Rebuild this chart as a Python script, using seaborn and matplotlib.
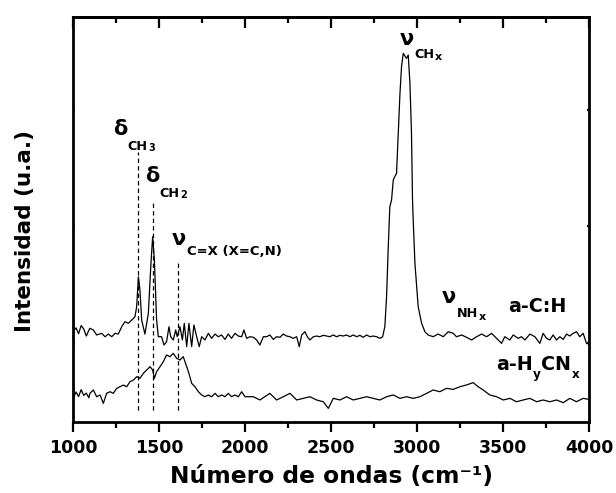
import matplotlib
matplotlib.use("Agg")
import matplotlib.pyplot as plt
import numpy as np
import pandas as pd
import seaborn as sns

# ---------------- data ----------------
# a-C:H film, IR absorbance (arbitrary units, offset for display)
wn_ach = [1000, 1015, 1030, 1045, 1060, 1075, 1090,
          1096, 1116, 1135, 1164, 1184, 1203, 1223, 1242, 1261, 1281, 1300, 1319, 1339, 1358,
          1368, 1378, 1387, 1397, 1416, 1436, 1451, 1461, 1471, 1484, 1494, 1513, 1527, 1542,
          1556, 1566, 1581, 1595, 1604, 1620, 1634, 1645, 1659, 1672, 1688, 1701, 1717, 1732,
          1746, 1765, 1785, 1804, 1824, 1843, 1862, 1882, 1901, 1920, 1940, 1959, 1979, 1992,
          2008, 2027, 2047, 2066, 2085, 2105, 2124, 2143, 2163, 2182, 2202, 2221, 2240, 2260,
          2279, 2299, 2314, 2328, 2347, 2361, 2376, 2396, 2415, 2434, 2454, 2473, 2492, 2512,
          2531, 2551, 2570, 2589, 2609, 2628, 2648, 2667, 2686, 2706, 2725, 2744, 2764, 2783,
          2799, 2812, 2822, 2832, 2841, 2851, 2861, 2870, 2880, 2890, 2900, 2909, 2919, 2929,
          2938, 2948, 2958, 2967, 2973, 2977, 2987, 3006, 3026, 3045, 3064, 3093, 3122, 3152,
          3181, 3210, 3229, 3259, 3287, 3317, 3346, 3375, 3404, 3433, 3462, 3491, 3510, 3539,
          3559, 3588, 3607, 3627, 3656, 3685, 3714, 3733, 3753, 3772, 3791, 3811, 3830, 3850,
          3869, 3888, 3908, 3927, 3946, 3966, 3985, 4000]
int_ach = [0.10, 0.13, 0.08, 0.15, 0.12, 0.06, 0.11,
           0.126, 0.112, 0.069, 0.083, 0.054, 0.077, 0.054, 0.083, 0.077, 0.140, 0.183, 0.169, 0.197, 0.226,
           0.312, 0.569, 0.455, 0.197, 0.077, 0.255, 0.684, 0.913, 0.712, 0.197, 0.054, 0.054, -0.017, 0.011,
           0.140, 0.054, 0.026, 0.112, 0.054, 0.140, 0.026, 0.169, -0.031, 0.169, -0.031, 0.155, 0.054, -0.031,
           0.054, 0.026, 0.083, 0.040, 0.077, 0.054, 0.069, 0.031, 0.077, 0.040, 0.083, 0.060, 0.054, 0.112,
           0.040, 0.054, 0.049, 0.026, -0.017, 0.054, 0.054, 0.069, 0.031, 0.054, 0.049, 0.077, 0.060, 0.054,
           0.040, 0.054, -0.031, 0.069, 0.097, 0.054, 0.026, 0.054, 0.060, 0.054, 0.066, 0.060, 0.054, 0.069,
           0.054, 0.066, 0.060, 0.069, 0.054, 0.069, 0.054, 0.066, 0.049, 0.069, 0.054, 0.060, 0.054, 0.040,
           0.054, 0.140, 0.398, 0.827, 1.170, 1.227, 1.399, 1.428, 1.456, 1.800, 2.143, 2.372, 2.486, 2.464,
           2.443, 2.472, 2.229, 1.800, 1.227, 1.056, 0.684, 0.312, 0.169, 0.097, 0.069, 0.054, 0.077, 0.054,
           0.097, 0.083, 0.054, 0.069, 0.049, 0.026, 0.054, 0.077, 0.054, 0.083, 0.040, -0.003, 0.054, 0.026,
           0.069, 0.040, 0.054, 0.026, 0.077, 0.054, -0.003, 0.083, 0.040, 0.026, 0.069, 0.026, 0.054, 0.031,
           0.077, 0.060, 0.083, 0.097, 0.054, 0.083, -0.003, -0.009]

# a-HyCNx film
wn_acn = [1000, 1015, 1030, 1045, 1060, 1075, 1090,
          1096, 1116, 1135, 1155, 1174, 1193, 1213, 1232, 1252, 1271, 1290, 1310, 1329, 1349,
          1368, 1387, 1407, 1426, 1446, 1461, 1471, 1484, 1504, 1523, 1542, 1562, 1581, 1601,
          1620, 1639, 1659, 1672, 1688, 1707, 1727, 1746, 1765, 1785, 1804, 1824, 1843, 1862,
          1882, 1901, 1920, 1940, 1959, 1979, 1998, 2047, 2085, 2143, 2182, 2221, 2260, 2299,
          2337, 2376, 2415, 2454, 2483, 2512, 2551, 2589, 2628, 2667, 2706, 2744, 2783, 2822,
          2861, 2900, 2938, 2977, 3016, 3055, 3093, 3132, 3171, 3210, 3249, 3287, 3326, 3355,
          3384, 3423, 3462, 3501, 3540, 3578, 3617, 3656, 3695, 3733, 3772, 3811, 3850, 3888,
          3927, 3966, 4000]
int_acn = [-0.47, -0.42, -0.46, -0.40, -0.45, -0.43, -0.47,
           -0.432, -0.403, -0.461, -0.446, -0.518, -0.432, -0.418, -0.432, -0.389, -0.375, -0.361, -0.375, -0.332, -0.318,
           -0.289, -0.303, -0.260, -0.232, -0.203, -0.232, -0.303, -0.246, -0.203, -0.160, -0.103, -0.117, -0.089, -0.132,
           -0.146, -0.117, -0.203, -0.260, -0.346, -0.375, -0.418, -0.446, -0.461, -0.446, -0.461, -0.432, -0.461, -0.446,
           -0.461, -0.432, -0.461, -0.446, -0.461, -0.418, -0.461, -0.461, -0.489, -0.432, -0.489, -0.461, -0.432, -0.489,
           -0.475, -0.461, -0.489, -0.504, -0.561, -0.475, -0.489, -0.461, -0.489, -0.475, -0.461, -0.475, -0.489, -0.461,
           -0.446, -0.475, -0.461, -0.475, -0.461, -0.432, -0.403, -0.418, -0.389, -0.398, -0.375, -0.360, -0.340, -0.375,
           -0.403, -0.446, -0.461, -0.489, -0.475, -0.504, -0.489, -0.475, -0.504, -0.489, -0.504, -0.489, -0.512, -0.475,
           -0.504, -0.475, -0.484]

# band assignments: position (cm-1) and top of the guide line
band_pos = [1378, 1463, 1607]
band_top = [1.64, 1.227, 0.695]
band_bottom = -0.575

x_major = [1000, 1500, 2000, 2500, 3000, 3500, 4000]
x_minor = [1250, 1750, 2250, 2750, 3250, 3750]
y_ticks = [0, 1, 2]

# ---------------- figure ----------------
sns.set_style("ticks")
plt.rcParams["font.family"] = ["DejaVu Sans"]
plt.rcParams["font.weight"] = "bold"
for key in ["text.color", "axes.labelcolor", "xtick.color", "ytick.color", "axes.edgecolor"]:
    plt.rcParams[key] = "black"

fig = plt.figure(figsize=(6.16, 4.93), dpi=100)
ax = fig.add_axes([0.1192, 0.144, 0.837, 0.8215])

df = pd.concat([
    pd.DataFrame({"wn": wn_ach, "I": int_ach, "sample": "a-C:H"}),
    pd.DataFrame({"wn": wn_acn, "I": int_acn, "sample": "a-HyCNx"}),
])
sns.lineplot(data=df, x="wn", y="I", hue="sample", palette=["black", "black"],
             estimator=None, sort=False, legend=False, linewidth=0.9, ax=ax)

ax.vlines(band_pos, band_bottom, band_top, colors="black",
          linestyles=(0, (3.5, 2.5)), linewidth=0.9)

ax.set_xlim(1000, 4000)
ax.set_ylim(-0.678, 2.798)

ax.set_xticks(x_major)
ax.set_xticks(x_minor, minor=True)
ax.set_yticks(y_ticks)
ax.tick_params(axis="x", which="major", direction="out", length=7.2, width=1.6,
               labelsize=12.5, pad=5, top=False)
ax.tick_params(axis="x", which="minor", direction="out", length=4.6, width=1.6, top=False)
ax.tick_params(axis="y", which="both", direction="in", length=1.5, width=1.5,
               left=True, right=True, labelleft=False)
for lab in ax.get_xticklabels():
    lab.set_fontweight("bold")

top = ax.secondary_xaxis("top")
top.set_xticks(x_major)
top.set_xticks(x_minor, minor=True)
top.tick_params(axis="x", which="major", direction="in", length=7.8, width=1.6, labeltop=False)
top.tick_params(axis="x", which="minor", direction="in", length=4.3, width=1.6)
top.spines["top"].set_linewidth(2.0)

for side in ["left", "right", "bottom", "top"]:
    ax.spines[side].set_visible(True)
    ax.spines[side].set_linewidth(2.0)
    ax.spines[side].set_color("black")

ax.set_xlabel("Número de ondas (cm⁻¹)", fontsize=16.8, fontweight="bold", labelpad=6)
ax.set_ylabel("Intensidad (u.a.)", fontsize=15.5, fontweight="bold")
ax.yaxis.set_label_coords(-0.0745, 0.472)

# ---------------- band labels ----------------
renderer = fig.canvas.get_renderer()


def compose(x, y, pieces):
    """Write a label made of pieces side by side; each piece is
    (text, font size, drop of its baseline below the first one in pixels)."""
    cx, base = ax.transData.transform((x, y))
    for text, size, drop in pieces:
        px, py = ax.transData.inverted().transform((cx, base - drop))
        t = ax.text(px, py, text, fontsize=size, fontweight="bold",
                    ha="left", va="baseline", color="black")
        cx = t.get_window_extent(renderer).x1 + 0.5


compose(2900, 2.558, [("ν", 15, 0), ("CH", 9.2, 13), ("x", 8, 15)])
compose(1230, 1.785, [("δ", 15, 0), ("CH", 9.2, 15), ("3", 7, 16)])
compose(1416, 1.382, [("δ", 15, 0), ("CH", 9.2, 15), ("2", 7, 16)])
compose(1573, 0.841, [("ν", 15, 0), ("C=X (X=C,N)", 9.5, 10)])
compose(3144, 0.343, [("ν", 15, 0), ("NH", 9.2, 14), ("x", 8, 17)])
compose(3528, 0.266, [("a-C:H", 13.7, 0)])
compose(3458, -0.232, [("a-H", 13.7, 0), ("y", 8.6, 8), ("CN", 13.7, 0), ("x", 8.6, 8)])

fig.savefig("out.png", dpi=100)
